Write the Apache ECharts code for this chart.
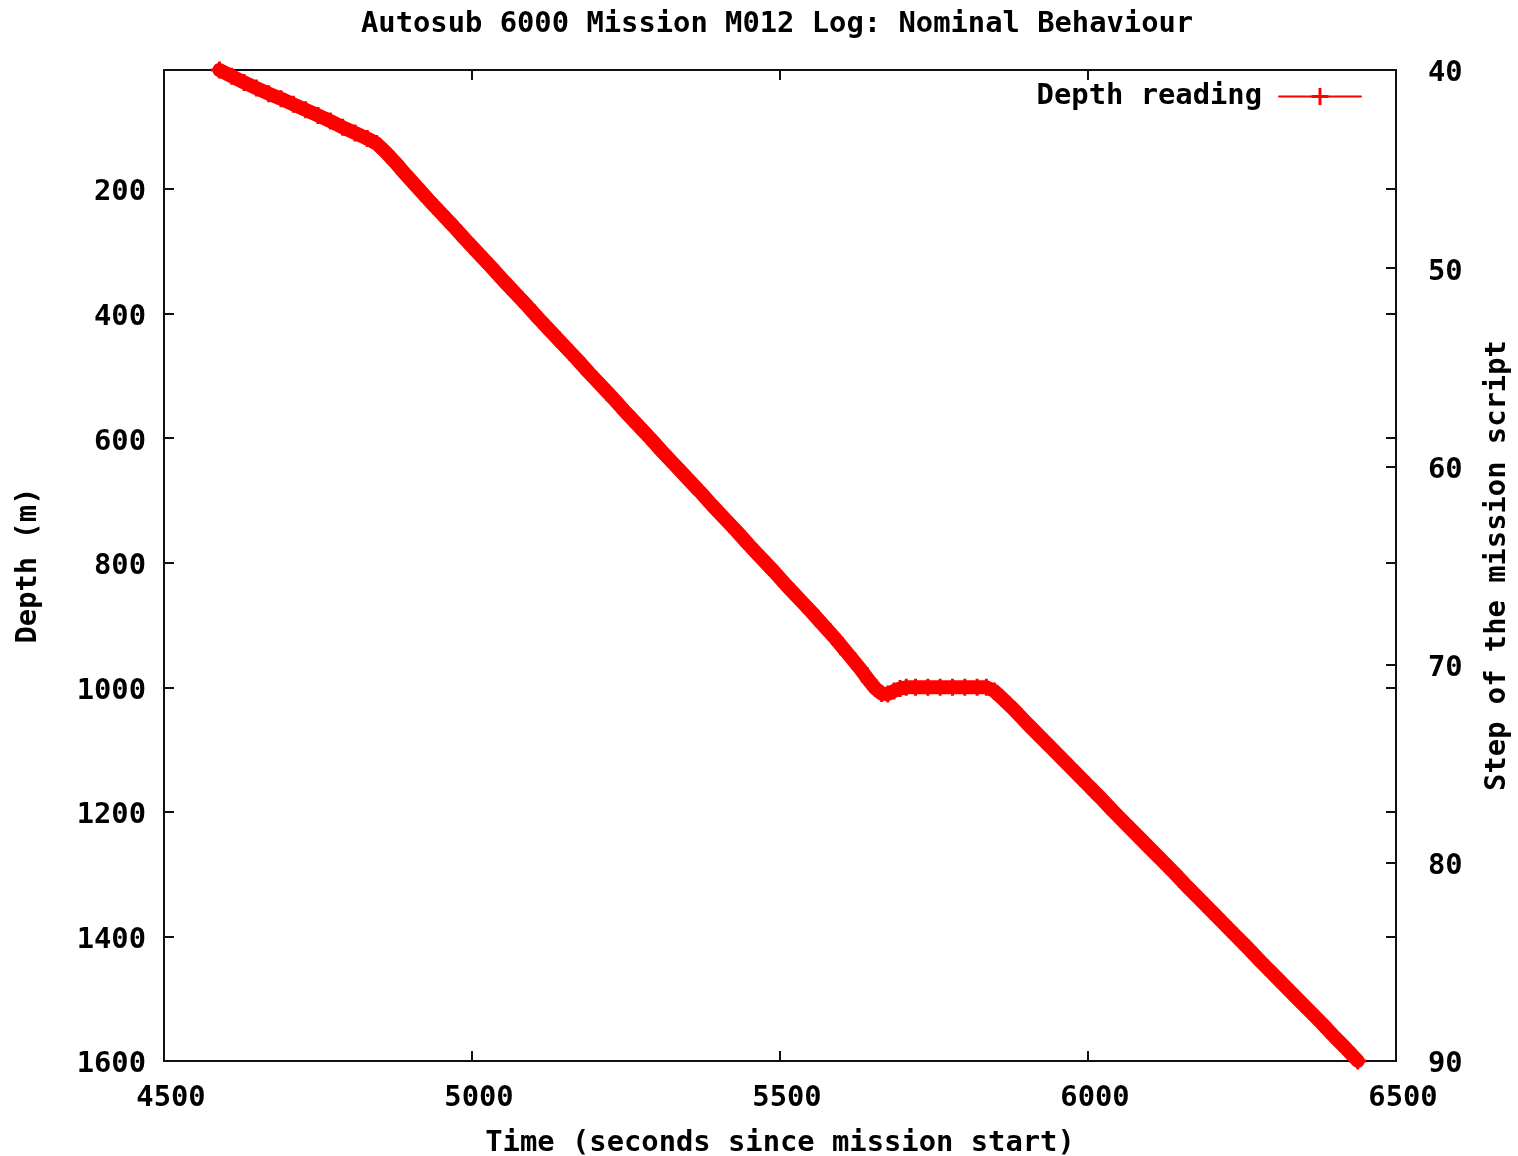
<!DOCTYPE html>
<html>
<head>
<meta charset="utf-8">
<script src="https://cdn.jsdelivr.net/npm/echarts@6/dist/echarts.min.js"></script>
<style>
html,body{margin:0;padding:0;background:#fff;}
#chart{width:1518px;height:1156px;}
</style>
</head>
<body>
<div id="chart"></div>
<script>
// Time (seconds since mission start)
const times = [4590,4610,4630,4650,4670,4690,4710,4730,4750,4770,4790,4810,4830,4845,
  4860,4875,4890,4910,4930,4950,4970,4990,5010,5030,5050,5070,5090,5110,5130,5150,
  5170,5190,5210,5230,5250,5270,5290,5310,5330,5350,5370,5390,5410,5430,5450,5470,
  5490,5510,5530,5550,5570,5590,5610,5630,5645,5655,5665,5675,5685,5695,5705,5720,
  5740,5760,5780,5800,5820,5835,5848,5860,5880,5900,5920,5940,5960,5980,6000,6020,
  6040,6060,6080,6100,6120,6140,6160,6180,6200,6220,6240,6260,6280,6300,6320,6340,
  6360,6380,6400,6420,6438];
// Depth reading (m)
const depths = [9,19,29,38,47,55,64,73,82,91,101,110,119,127,
  141,157,174,196,218,239,260,282,303,324,346,367,388,410,431,452,
  473,495,516,537,559,580,601,623,644,665,686,708,729,750,772,793,
  814,836,857,878,900,922,946,970,990,1002,1010,1011,1006,1002,1000,1000,
  1000,1000,1000,1000,1000,1000,1006,1017,1036,1057,1077,1097,1117,1137,1157,1177,
  1198,1218,1238,1258,1278,1298,1319,1339,1359,1379,1399,1419,1440,1460,1480,1500,
  1520,1540,1561,1581,1600];
// Axis ticks
const xTicks = [4500,5000,5500,6000,6500];
const depthTicks = [200,400,600,800,1000,1200,1400,1600];
const stepTicks = [40,50,60,70,80,90];

const seriesData = times.map((t,i)=>[t,depths[i]]);

const FONT = 'DejaVu Sans Mono';
const txt = {fontFamily: FONT, fontWeight: 'bold', fontSize: 28.8, color: '#000'};
const axisLine = {show: true, onZero: false, lineStyle: {color: '#111', width: 2}};
const tickStyle = {color: '#111', width: 2};
const plus = 'path://M7,0L10,0L10,7L17,7L17,10L10,10L10,17L7,17L7,10L0,10L0,7L7,7Z';
const plain = v => String(v);
const shifted = v => '{a|' + v + '}';
const richDown = {a: Object.assign({padding: [8, 0, 0, 0]}, txt)};

const chart = echarts.init(document.getElementById('chart'), null, {renderer: 'canvas'});
chart.setOption({
  animation: false,
  backgroundColor: '#fff',
  title: {
    text: 'Autosub 6000 Mission M012 Log: Nominal Behaviour',
    left: 356, top: 5,
    textStyle: Object.assign({}, txt)
  },
  legend: {
    data: ['Depth reading'],
    right: 151, top: 77,
    align: 'right',
    itemWidth: 82, itemHeight: 21,
    lineStyle: {width: 2, color: '#ff0000'},
    textStyle: Object.assign({padding: [0, 12, 0, 0]}, txt)
  },
  grid: {left: 164, right: 122, top: 70, bottom: 95, containLabel: false, outerBoundsMode: 'none'},
  xAxis: [{
    type: 'value', position: 'bottom',
    min: xTicks[0], max: xTicks[xTicks.length-1], interval: 500,
    name: 'Time (seconds since mission start)',
    nameLocation: 'middle', nameGap: 68,
    nameTextStyle: Object.assign({}, txt),
    axisLine: axisLine,
    axisTick: {show: true, inside: true, length: 10, lineStyle: tickStyle},
    axisLabel: Object.assign({margin: 23, padding: [0,0,0,14], formatter: plain}, txt),
    splitLine: {show: false}
  },{
    type: 'value', position: 'top',
    min: xTicks[0], max: xTicks[xTicks.length-1], interval: 500,
    axisLine: axisLine,
    axisTick: {show: true, inside: true, length: 10, lineStyle: tickStyle},
    axisLabel: {show: false},
    splitLine: {show: false}
  }],
  yAxis: [{
    type: 'value', position: 'left', inverse: true,
    min: depths[0], max: depthTicks[depthTicks.length-1],
    name: 'Depth (m)', nameLocation: 'middle', nameGap: 121, nameRotate: 90,
    nameTextStyle: Object.assign({}, txt),
    axisLine: axisLine,
    axisTick: {show: true, inside: true, length: 10, customValues: depthTicks, lineStyle: tickStyle},
    axisLabel: Object.assign({margin: 18, customValues: depthTicks, formatter: shifted, rich: richDown}, txt),
    splitLine: {show: false}
  },{
    type: 'value', position: 'right', inverse: true,
    min: stepTicks[0], max: stepTicks[stepTicks.length-1], interval: 10,
    name: 'Step of the mission script', nameLocation: 'middle', nameGap: 87, nameRotate: 90,
    nameTextStyle: Object.assign({}, txt),
    axisLine: axisLine,
    axisTick: {show: true, inside: true, length: 10, lineStyle: tickStyle},
    axisLabel: Object.assign({margin: 32, formatter: shifted, rich: richDown}, txt),
    splitLine: {show: false}
  },{
    type: 'value', position: 'right', inverse: true,
    min: depths[0], max: depthTicks[depthTicks.length-1],
    axisLine: axisLine,
    axisTick: {show: true, inside: true, length: 10, customValues: depthTicks, lineStyle: tickStyle},
    axisLabel: {show: false},
    splitLine: {show: false}
  }],
  series: [{
    name: 'Depth reading',
    type: 'line',
    xAxisIndex: 0, yAxisIndex: 0,
    data: seriesData,
    symbol: plus,
    symbolSize: 17,
    symbolKeepAspect: true,
    showAllSymbol: true,
    clip: false,
    lineStyle: {color: '#ff0000', width: 14, join: 'round', cap: 'round'},
    itemStyle: {color: '#ff0000', borderWidth: 0}
  }]
});
</script>
</body>
</html>
